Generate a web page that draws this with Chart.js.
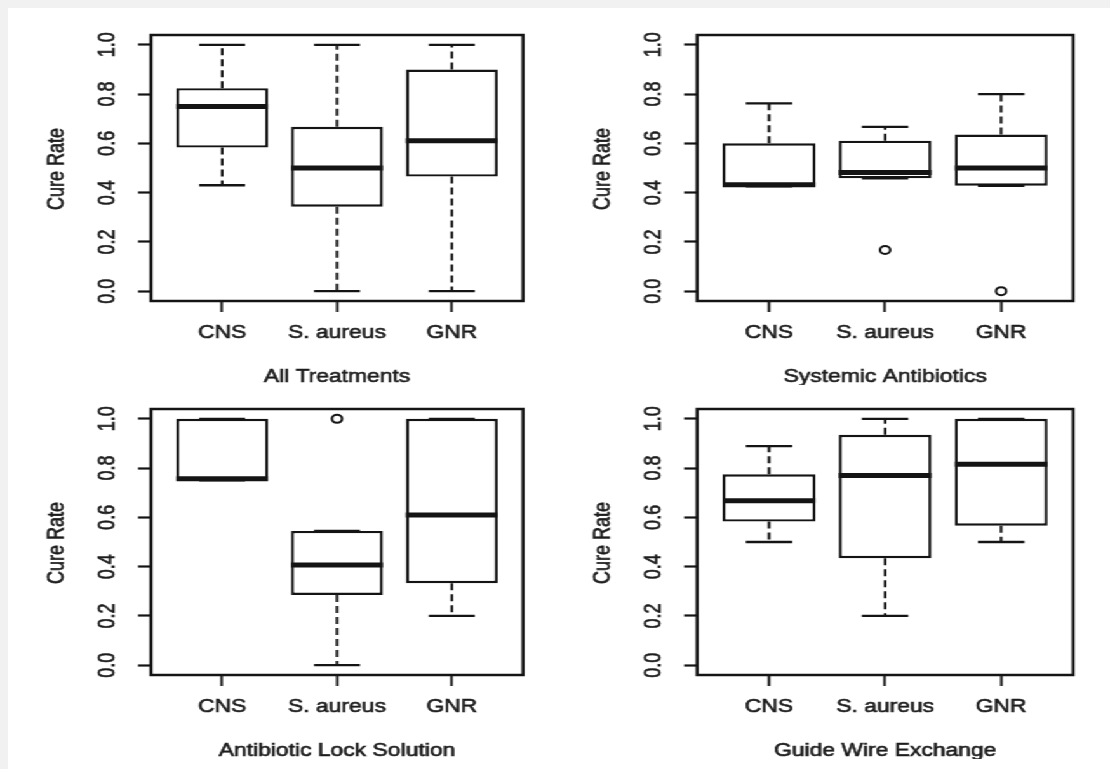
<!DOCTYPE html>
<html><head><meta charset="utf-8">
<script src="https://cdn.jsdelivr.net/npm/chart.js@4.4.1/dist/chart.umd.min.js"></script>
<style>
html,body{margin:0;padding:0;width:1110px;height:769px;overflow:hidden;background:#f1f1f1;}
#paper{position:absolute;left:8px;top:8px;width:1102px;height:761px;background:#fff;}
#stage{position:absolute;left:0;top:0;height:769px;transform-origin:0 0;}
#stage canvas{position:absolute;}
</style></head><body>
<div id="paper"></div>
<div id="stage"></div>
<script>
// ---------- data ----------
const categories = ['CNS', 'S. aureus', 'GNR'];
const categoryPositions = [1, 2, 3];
const yTickValues = [0, 0.2, 0.4, 0.6, 0.8, 1.0];
const yTickLabels = ['0.0', '0.2', '0.4', '0.6', '0.8', '1.0'];
const yTitle = 'Cure Rate';
const panelTitles = ['All Treatments', 'Systemic Antibiotics', 'Antibiotic Lock Solution', 'Guide Wire Exchange'];

// All Treatments
const allLow  = [0.43, 0.00, 0.00];
const allQ1   = [0.583, 0.343, 0.465];
const allMed  = [0.75, 0.50, 0.611];
const allQ3   = [0.824, 0.667, 0.90];
const allHigh = [1.00, 1.00, 1.00];
const allOutX = [];
const allOutY = [];

// Systemic Antibiotics
const sysLow  = [0.425, 0.458, 0.428];
const sysQ1   = [0.425, 0.458, 0.428];
const sysMed  = [0.432, 0.482, 0.50];
const sysQ3   = [0.60, 0.611, 0.636];
const sysHigh = [0.762, 0.667, 0.80];
const sysOutX = [2, 3];
const sysOutY = [0.167, 0.0];

// Antibiotic Lock Solution
const lockLow  = [0.75, 0.00, 0.20];
const lockQ1   = [0.75, 0.285, 0.333];
const lockMed  = [0.757, 0.407, 0.61];
const lockQ3   = [1.00, 0.545, 1.00];
const lockHigh = [1.00, 0.545, 1.00];
const lockOutX = [2];
const lockOutY = [1.0];

// Guide Wire Exchange
const gwLow  = [0.50, 0.20, 0.50];
const gwQ1   = [0.583, 0.434, 0.566];
const gwMed  = [0.667, 0.77, 0.816];
const gwQ3   = [0.775, 0.935, 1.00];
const gwHigh = [0.889, 1.00, 1.00];
const gwOutX = [];
const gwOutY = [];

// ---------- layout / style ----------
const SX = 1.27;                 // horizontal stretch of the whole figure
const INK = '#141414';
const TXT = '#1c1c1c';
const FONT = '"Liberation Sans", Arial, Helvetica, sans-serif';
const FS = 18;
const TSW = 0.6;                 // slight text stroke for the heavier look
const stage = document.getElementById('stage');
stage.style.width = (1110 / SX) + 'px';
stage.style.transform = 'scaleX(' + SX + ')';

const panels = [
  {box: [151, 523, 35, 301], title: panelTitles[0], low: allLow, q1: allQ1, med: allMed, q3: allQ3, high: allHigh, ox: allOutX, oy: allOutY},
  {box: [697, 1073, 35, 301], title: panelTitles[1], low: sysLow, q1: sysQ1, med: sysMed, q3: sysQ3, high: sysHigh, ox: sysOutX, oy: sysOutY},
  {box: [151, 523, 409, 675], title: panelTitles[2], low: lockLow, q1: lockQ1, med: lockMed, q3: lockQ3, high: lockHigh, ox: lockOutX, oy: lockOutY},
  {box: [697, 1073, 409, 675], title: panelTitles[3], low: gwLow, q1: gwQ1, med: gwMed, q3: gwQ3, high: gwHigh, ox: gwOutX, oy: gwOutY}
];

const LEFTM = 151, RIGHTM = 32, TOPM = 35, BOTM = 84;

function drawText(ctx, s, x, y) {
  ctx.strokeText(s, x, y);
  ctx.fillText(s, x, y);
}

function makePlugin(p) {
  return {
    id: 'rbox',
    afterDatasetsDraw(chart) {
      const ctx = chart.ctx, a = chart.chartArea, ys = chart.scales.y;
      const meta = chart.getDatasetMeta(0);
      ctx.save();
      ctx.strokeStyle = INK;
      ctx.lineCap = 'butt';
      meta.data.forEach((el, i) => {
        const x = el.x, w = el.width;
        const pLow = ys.getPixelForValue(p.low[i]);
        const pQ1 = ys.getPixelForValue(p.q1[i]);
        const pMed = ys.getPixelForValue(p.med[i]);
        const pQ3 = ys.getPixelForValue(p.q3[i]);
        const pHigh = ys.getPixelForValue(p.high[i]);
        // dashed whiskers
        ctx.lineWidth = 2.1;
        ctx.setLineDash([7, 4]);
        ctx.beginPath();
        if (pHigh < pQ3) { ctx.moveTo(x, pQ3); ctx.lineTo(x, pHigh); }
        if (pLow > pQ1) { ctx.moveTo(x, pQ1); ctx.lineTo(x, pLow); }
        ctx.stroke();
        // staples
        ctx.setLineDash([]);
        ctx.lineWidth = 2.3;
        ctx.beginPath();
        ctx.moveTo(x - w / 4, pHigh); ctx.lineTo(x + w / 4, pHigh);
        ctx.moveTo(x - w / 4, pLow); ctx.lineTo(x + w / 4, pLow);
        ctx.stroke();
        // median
        ctx.lineWidth = 5;
        ctx.beginPath();
        ctx.moveTo(x - w / 2, pMed); ctx.lineTo(x + w / 2, pMed);
        ctx.stroke();
      });
      // frame
      ctx.lineWidth = 2.5;
      ctx.strokeRect(a.left, a.top, a.right - a.left, a.bottom - a.top);
      ctx.restore();
    },
    afterDraw(chart) {
      const ctx = chart.ctx, a = chart.chartArea, ys = chart.scales.y;
      ctx.save();
      ctx.fillStyle = TXT;
      ctx.strokeStyle = TXT;
      ctx.lineWidth = TSW;
      ctx.font = FS + 'px ' + FONT;
      ctx.textAlign = 'center';
      ctx.textBaseline = 'middle';
      yTickValues.forEach((v, i) => {
        const py = ys.getPixelForValue(v);
        ctx.save();
        ctx.translate(a.left - 43 / SX, py);
        ctx.rotate(-Math.PI / 2);
        drawText(ctx, yTickLabels[i], 0, 0);
        ctx.restore();
      });
      ctx.save();
      ctx.translate(a.left - 94 / SX, (a.top + a.bottom) / 2 + 1);
      ctx.rotate(-Math.PI / 2);
      drawText(ctx, yTitle, 0, 0);
      ctx.restore();
      drawText(ctx, p.title, (a.left + a.right) / 2, a.bottom + 76);
      ctx.restore();
    }
  };
}

panels.forEach((p) => {
  const [L, R, T, B] = p.box;
  const cw = Math.round((R - L + LEFTM + RIGHTM) / SX);
  const ch = (B - T) + TOPM + BOTM;
  const cv = document.createElement('canvas');
  cv.width = cw; cv.height = ch;
  cv.style.width = cw + 'px'; cv.style.height = ch + 'px';
  cv.style.left = ((L - LEFTM) / SX) + 'px';
  cv.style.top = (T - TOPM) + 'px';
  stage.appendChild(cv);
  const areaW = (R - L) / SX;
  const yAxisW = LEFTM / SX;
  new Chart(cv.getContext('2d'), {
    type: 'bar',
    data: {
      datasets: [
        {
          type: 'bar',
          data: categoryPositions.map((cx, i) => ({x: cx, y: [p.q1[i], p.q3[i]]})),
          backgroundColor: '#ffffff',
          borderColor: INK,
          borderWidth: 2.4,
          borderSkipped: false,
          barPercentage: 0.8,
          categoryPercentage: 1.0,
          order: 2
        },
        {
          type: 'scatter',
          data: p.ox.map((ox, i) => ({x: ox, y: p.oy[i]})),
          pointStyle: 'circle',
          pointRadius: 4,
          pointBorderWidth: 2,
          pointBorderColor: INK,
          pointBackgroundColor: '#ffffff',
          order: 1
        }
      ]
    },
    options: {
      responsive: false,
      animation: false,
      events: [],
      layout: {padding: {left: 0, top: TOPM, right: cw - yAxisW - areaW, bottom: 0}},
      plugins: {legend: {display: false}, tooltip: {enabled: false}},
      scales: {
        x: {
          type: 'linear',
          position: 'bottom',
          offset: false,
          min: 0.38, max: 3.62,
          afterBuildTicks: (sc) => { sc.ticks = categoryPositions.map(v => ({value: v})); },
          afterFit: (sc) => { sc.height = BOTM; },
          ticks: {
            autoSkip: false, maxRotation: 0, minRotation: 0,
            callback: (v, i) => categories[i],
            font: {family: FONT, size: FS}, color: TXT, padding: 10,
            textStrokeColor: TXT, textStrokeWidth: TSW
          },
          grid: {offset: false, drawOnChartArea: false, drawTicks: true, tickLength: 11, tickWidth: 2, tickColor: INK},
          border: {display: false}
        },
        y: {
          type: 'linear',
          position: 'left',
          min: -0.04, max: 1.04,
          afterBuildTicks: (sc) => { sc.ticks = yTickValues.map(v => ({value: v})); },
          afterFit: (sc) => { sc.width = yAxisW; },
          ticks: {display: false},
          grid: {drawOnChartArea: false, drawTicks: true, tickLength: 13 / SX, tickWidth: 2.2, tickColor: INK},
          border: {display: false}
        }
      }
    },
    plugins: [makePlugin(p)]
  });
});
</script>
</body></html>
